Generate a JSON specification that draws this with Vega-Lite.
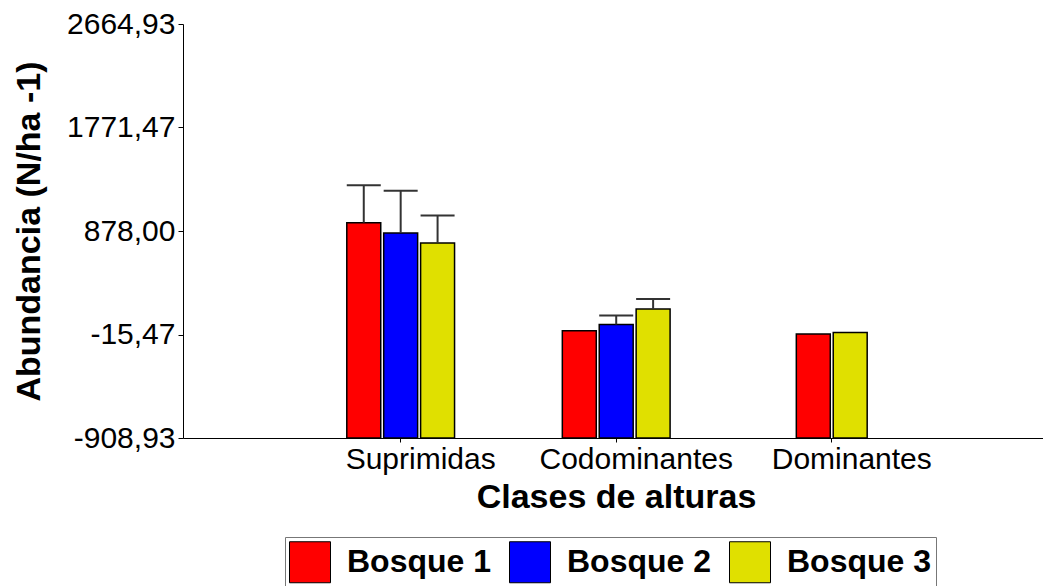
{
  "$schema": "https://vega.github.io/schema/vega-lite/v6.json",
  "width": 860,
  "height": 414,
  "autosize": "none",
  "padding": {"left": 183, "top": 24, "right": 0, "bottom": 148},
  "background": "white",
  "config": {"font": "Liberation Sans", "view": {"stroke": null}},
  "data": {
    "values": [
      {"clase": "Suprimidas", "bosque": "Bosque 1", "valor": 950, "err": 1274},
      {"clase": "Suprimidas", "bosque": "Bosque 2", "valor": 861, "err": 1225},
      {"clase": "Suprimidas", "bosque": "Bosque 3", "valor": 774, "err": 1011},
      {"clase": "Codominantes", "bosque": "Bosque 1", "valor": 17, "err": null},
      {"clase": "Codominantes", "bosque": "Bosque 2", "valor": 71, "err": 149},
      {"clase": "Codominantes", "bosque": "Bosque 3", "valor": 204, "err": 291},
      {"clase": "Dominantes", "bosque": "Bosque 1", "valor": -12, "err": null},
      {"clase": "Dominantes", "bosque": "Bosque 3", "valor": 2, "err": null}
    ]
  },
  "encoding": {
    "x": {
      "field": "clase",
      "type": "nominal",
      "scale": {
        "domain": ["Suprimidas", "Codominantes", "Dominantes"],
        "paddingInner": 0.5,
        "paddingOuter": 0.745,
        "align": 0.51
      },
      "axis": {
        "title": "Clases de alturas",
        "titleFontSize": 34,
        "titleFontWeight": "bold",
        "titleColor": "black",
        "titleX": 433,
        "titlePadding": 6,
        "labelAngle": 0,
        "labelFontSize": 30,
        "labelColor": "black",
        "labelPadding": 2,
        "labelOffset": 20,
        "labelLimit": 0,
        "domainColor": "black",
        "tickColor": "black",
        "tickSize": 4,
        "grid": false
      }
    }
  },
  "layer": [
    {
      "transform": [{"filter": "datum.clase !== 'Dominantes'"}],
      "mark": {"type": "bar", "stroke": "black", "strokeWidth": 1.5},
      "encoding": {
        "y": {
          "field": "valor",
          "type": "quantitative",
          "scale": {"domain": [-908.93, 2664.93], "nice": false, "zero": false},
          "axis": {
            "title": "Abundancia (N/ha -1)",
            "titleFontSize": 34,
            "titleFontWeight": "bold",
            "titleColor": "black",
            "titlePadding": 20,
            "values": [-908.93, -15.47, 878, 1771.47, 2664.93],
            "labelExpr": "replace(replace(format(datum.value, '.2f'), '.', ','), '\u2212', '-')",
            "labelFontSize": 30,
            "labelColor": "black",
            "labelPadding": 3,
            "domainColor": "black",
            "tickColor": "black",
            "tickSize": 5,
            "grid": false
          }
        },
        "y2": {"datum": -908.93},
        "xOffset": {
          "field": "bosque",
          "type": "nominal",
          "scale": {"domain": ["Bosque 1", "Bosque 2", "Bosque 3"], "paddingInner": 0.08, "paddingOuter": 0}
        },
        "color": {
          "field": "bosque",
          "type": "nominal",
          "scale": {"domain": ["Bosque 1", "Bosque 2", "Bosque 3"], "range": ["#ff0000", "#0000ff", "#e0e000"]},
          "legend": {
            "orient": "none",
            "legendX": 102,
            "legendY": 513,
            "direction": "horizontal",
            "title": null,
            "labelFont": "Liberation Sans",
            "labelFontWeight": "bold",
            "labelFontSize": 32,
            "labelColor": "black",
            "labelOffset": 16,
            "labelLimit": 0,
            "symbolType": "square",
            "symbolSize": 1681,
            "symbolStrokeColor": "black",
            "symbolStrokeWidth": 1,
            "symbolOpacity": 1,
            "strokeColor": "#777777",
            "padding": 4,
            "columnPadding": 15
          }
        }
      }
    },
    {
      "transform": [{"filter": "datum.clase === 'Dominantes'"}],
      "mark": {"type": "bar", "stroke": "black", "strokeWidth": 1.5},
      "encoding": {
        "y": {"field": "valor", "type": "quantitative", "title": "Abundancia (N/ha -1)"},
        "y2": {"datum": -908.93},
        "xOffset": {
          "field": "bosque",
          "type": "nominal",
          "scale": {"domain": ["Bosque 1", "Bosque 3"], "paddingInner": 0.08, "paddingOuter": 0.5}
        },
        "color": {"field": "bosque", "type": "nominal"}
      }
    },
    {
      "transform": [{"filter": "isValid(datum.err)"}],
      "mark": {"type": "rule", "color": "#333333", "strokeWidth": 2},
      "encoding": {
        "y": {"field": "valor", "type": "quantitative", "title": "Abundancia (N/ha -1)"},
        "y2": {"field": "err"},
        "xOffset": {
          "field": "bosque",
          "type": "nominal",
          "scale": {"domain": ["Bosque 1", "Bosque 2", "Bosque 3"], "paddingInner": 0.08, "paddingOuter": 0}
        }
      }
    },
    {
      "transform": [{"filter": "isValid(datum.err)"}],
      "mark": {"type": "tick", "color": "#333333", "thickness": 2, "size": 34, "opacity": 1},
      "encoding": {
        "y": {"field": "err", "type": "quantitative", "title": "Abundancia (N/ha -1)"},
        "xOffset": {
          "field": "bosque",
          "type": "nominal",
          "scale": {"domain": ["Bosque 1", "Bosque 2", "Bosque 3"], "paddingInner": 0.08, "paddingOuter": 0}
        }
      }
    }
  ],
  "resolve": {"scale": {"xOffset": "independent"}}
}
